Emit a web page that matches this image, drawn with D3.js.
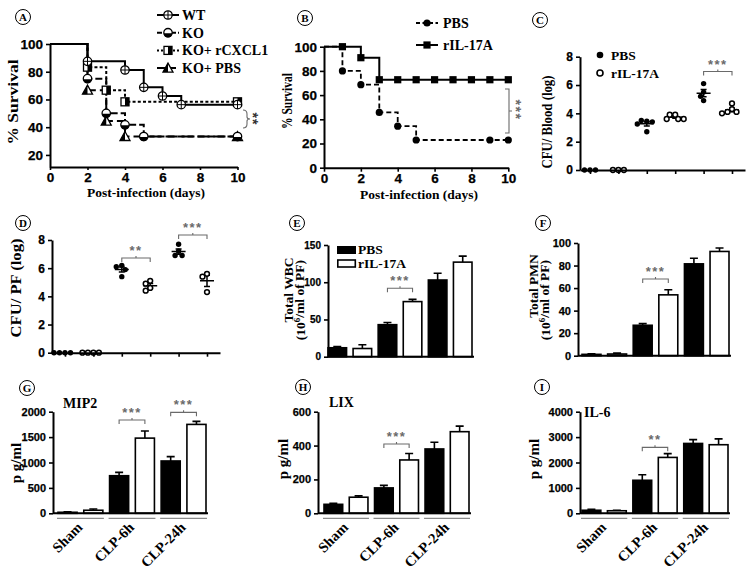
<!DOCTYPE html>
<html><head><meta charset="utf-8">
<script src="https://cdn.jsdelivr.net/npm/d3@7"></script>
<style>body{margin:0;background:#fff}svg{display:block}</style>
</head><body><svg id="c" width="754" height="571"></svg>
<script>
// ================= DATA =================
// Panel A : Kaplan-Meier survival
const aDayTicks = [0,2,4,6,8,10];
const aSurvTicks = [20,40,60,80,100];
const aSeries = ["WT","KO","KO+ rCXCL1","KO+ PBS"];
const aWTdays = [0,2,4,5,6,7,10];
const aWTsurv = [100,87.5,81.25,68.75,62.5,56.25,56.25];
const aKOdays = [0,2,3,4,5,10];
const aKOsurv = [100,75,50,41.7,33.3,33.3];
const aCXdays = [0,2,3,4,10];
const aCXsurv = [100,83.3,66.7,58.3,58.3];
const aPBdays = [0,2,3,4,10];
const aPBsurv = [100,66.7,44.4,33.3,33.3];
// Panel B
const bDayTicks = [0,2,4,6,8,10];
const bSurvTicks = [0,20,40,60,80,100];
const bSeries = ["PBS","rIL-17A"];
const bPBSdays = [0,1,2,3,4,5,10];
const bPBSsurv = [100,80,68.6,45.7,34.3,22.9,22.9];
const bPBSmarks = [1,2,3,4,5,9,10];
const bILdays = [0,2,3,10];
const bILsurv = [100,90.9,72.7,72.7];
const bILmarks = [1,2,3,4,5,6,7,8,9,10];
// Panel C : CFU / blood (log), groups alternate PBS / rIL-17A
const cTicks = [0,2,4,6,8];
const cGroups = [[0,0,0],[0,0,0],[3.45,3.5,3.4,3.25,2.7],[3.9,3.9,3.6,3.6,3.6],[6.1,5.5,5.2,4.9],[4.7,4.3,4.1,4.1,4.0]];
// Panel D : CFU / PF (log)
const dTicks = [0,2,4,6,8];
const dGroups = [[0,0,0,0],[0,0,0,0],[6.2,6.1,5.9,5.4],[5.1,4.9,4.6,4.4],[7.7,7.2,6.9,6.9],[5.6,5.4,4.3]];
// Bar panels: [Sham, CLP-6h, CLP-24h]
const groupsLbl = ["Sham","CLP-6h","CLP-24h"];
const eTicks = [0,50,100,150];
const ePBS = [12,43,103], ePBSsem = [1.5,3,9];
const eIL  = [11,74,127], eILsem  = [5,3,8];
const fTicks = [0,20,40,60,80,100];
const fPBS = [1.2,27,81.5], fPBSsem = [0.5,1.5,5];
const fIL  = [1.5,54,92.5], fILsem  = [0.8,4.5,3];
const gTicks = [0,500,1000,1500,2000];
const gPBS = [20,740,1030], gPBSsem = [8,65,85];
const gIL  = [60,1480,1750], gILsem = [25,140,60];
const hTicks = [0,200,400,600];
const hPBS = [53,150,380], hPBSsem = [6,15,40];
const hIL  = [95,315,482], hILsem  = [8,38,33];
const iTicks = [0,1000,2000,3000,4000];
const iPBS = [120,1300,2750], iPBSsem = [40,220,150];
const iIL  = [100,2200,2700], iILsem  = [20,150,230];

// ================= HELPERS =================
const svg = d3.select("#c");
const SERIF = '"Liberation Serif","Times New Roman",serif';
const SANS = '"Liberation Sans",Arial,sans-serif';
const GRAY = "#6a6a6a";
const fmt = d3.format("d");

function T(x,y,s,o={}){
  const t = svg.append("text").attr("x",x).attr("y",y).text(s)
    .attr("font-family", o.sans?SANS:SERIF).attr("font-weight","bold")
    .attr("font-size", o.fs||13).attr("text-anchor", o.anchor||"start")
    .attr("fill", o.fill||"#000");
  if(o.dy) t.attr("dy", o.dy);
  if(o.rot!=null) t.attr("transform", `rotate(${o.rot},${x},${y})`);
  if(o.len) t.attr("textLength", o.len).attr("lengthAdjust","spacingAndGlyphs");
  return t;
}
function styleAxis(g, fs){
  g.attr("font-family",SANS).attr("font-size",fs).attr("font-weight","bold");
  g.select(".domain").attr("stroke-width",2).attr("stroke","#000");
  g.selectAll(".tick line").attr("stroke-width",1.6).attr("stroke","#000");
  g.selectAll(".tick text").attr("fill","#000").attr("stroke","#000").attr("stroke-width",0.25);
}
function circLabel(x,y,s){
  svg.append("circle").attr("cx",x).attr("cy",y).attr("r",7.5).attr("fill","none").attr("stroke","#000").attr("stroke-width",1);
  T(x,y,s,{fs:11,anchor:"middle",dy:"0.36em"});
}
function stepAt(days,surv,d){ let v=surv[0]; days.forEach((t,i)=>{ if(t<=d) v=surv[i]; }); return v; }
function marker(g,type,cx,cy){
  const s = g.append("g");
  if(type==="WT"){
    s.append("circle").attr("cx",cx).attr("cy",cy).attr("r",4.2).attr("fill","#fff").attr("stroke","#000").attr("stroke-width",1.3);
    s.append("path").attr("d",`M${cx-4.2},${cy}H${cx+4.2}M${cx},${cy-4.2}V${cy+4.2}`).attr("stroke","#000").attr("stroke-width",1);
  } else if(type==="KO"){
    s.append("circle").attr("cx",cx).attr("cy",cy).attr("r",4.2).attr("fill","#fff").attr("stroke","#000").attr("stroke-width",1.3);
    s.append("path").attr("d",`M${cx-4.2},${cy+0.5}A4.2,4.2 0 0,0 ${cx+4.2},${cy+0.5}Z`).attr("fill","#000");
  } else if(type==="CX"){
    s.append("rect").attr("x",cx-4).attr("y",cy-4).attr("width",8).attr("height",8).attr("fill","#fff").attr("stroke","#000").attr("stroke-width",1.3);
    s.append("rect").attr("x",cx).attr("y",cy-4).attr("width",4).attr("height",8).attr("fill","#000");
  } else if(type==="PB"){
    s.append("path").attr("d",`M${cx},${cy-5}L${cx-5},${cy+4}L${cx+5},${cy+4}Z`).attr("fill","#fff").attr("stroke","#000").attr("stroke-width",1.3);
    s.append("path").attr("d",`M${cx},${cy-5}L${cx-5},${cy+4}L${cx},${cy+4}Z`).attr("fill","#000");
  } else if(type==="dot"){
    s.append("circle").attr("cx",cx).attr("cy",cy).attr("r",3.6).attr("fill","#000");
  } else if(type==="sq"){
    s.append("rect").attr("x",cx-3.6).attr("y",cy-3.6).attr("width",7.2).attr("height",7.2).attr("fill","#000");
  }
}
function hBracket(x1,x2,y,label,fs){
  svg.append("path").attr("d",`M${x1},${y+4}V${y}H${x2}V${y+4}M${(x1+x2)/2},${y}v-2`)
    .attr("fill","none").attr("stroke",GRAY).attr("stroke-width",1.1);
  T((x1+x2)/2, y-3, label, {sans:true, fs:fs||14, anchor:"middle", fill:GRAY}).attr("letter-spacing","1.5");
}
function swarm(ys,minD){
  const placed=[];
  return ys.map(py=>{
    for(let k=0;k<400;k++){
      const off=(k%2?-1:1)*Math.ceil(k/2)*0.5;
      if(placed.every(p=>(p.o-off)**2+(p.y-py)**2>=minD*minD)){placed.push({o:off,y:py});return off;}
    }
    return 0;
  });
}

// ================= PANEL A =================
circLabel(23,17,"A");
{
  const x = d3.scaleLinear().domain([0,10]).range([50,237.5]);
  const y = d3.scaleLinear().domain([11.3,100]).range([167,44]);
  const g = svg.append("g");
  const line = d3.line().x(d=>x(d[0])).y(d=>y(d[1])).curve(d3.curveStepAfter);
  const ser = [
    {k:"PB", d:aPBdays, s:aPBsurv, dash:"12,4"},
    {k:"KO", d:aKOdays, s:aKOsurv, dash:"7,3"},
    {k:"CX", d:aCXdays, s:aCXsurv, dash:"3,2.2"},
    {k:"WT", d:aWTdays, s:aWTsurv, dash:null}
  ];
  ser.forEach(o=>{
    g.append("path").attr("d",line(o.d.map((d,i)=>[d,o.s[i]]))).attr("fill","none")
      .attr("stroke","#000").attr("stroke-width",2).attr("stroke-dasharray",o.dash);
  });
  ser.forEach(o=>{ o.d.forEach((d,i)=>{ if(i>0) marker(g,o.k,x(d),y(o.s[i])); }); });
  const ax = svg.append("g").attr("transform","translate(0,167)")
    .call(d3.axisBottom(x).tickValues(aDayTicks).tickSize(3).tickPadding(2).tickSizeOuter(0));
  styleAxis(ax,13.5);
  const ay = svg.append("g").attr("transform","translate(50,0)")
    .call(d3.axisLeft(y).tickValues(aSurvTicks).tickSize(4).tickPadding(3).tickSizeOuter(0));
  styleAxis(ay,13.5);
  T(13,102,"% Survival",{fs:15,anchor:"middle",rot:-90,dy:"0.35em",len:85});
  T(146,197,"Post-infection (days)",{fs:13.5,anchor:"middle"});
  // legend
  const keys=["WT","KO","CX","PB"], dashes=[null,"5,2","2,2","8,3"];
  aSeries.forEach((s,i)=>{
    const ly = 15+i*17.7;
    svg.append("path").attr("d",`M157,${ly}H179`).attr("stroke","#000").attr("stroke-width",2).attr("stroke-dasharray",dashes[i]);
    marker(svg,keys[i],168,ly);
    T(182,ly+5,s,{fs:14});
  });
  // significance brace
  svg.append("path").attr("d","M243,110q4,0 4,4v3q0,2 3,2q-3,0 -3,2v3q0,4 -4,4")
    .attr("fill","none").attr("stroke",GRAY).attr("stroke-width",1.1);
  T(253,119,"**",{sans:true,fs:14,anchor:"middle",rot:90,fill:"#333",dy:"0.35em"}).attr("letter-spacing","1");
}

// ================= PANEL B =================
circLabel(305,18,"B");
{
  const x = d3.scaleLinear().domain([0,10]).range([324,508.3]);
  const y = d3.scaleLinear().domain([0,100]).range([167.7,46.7]);
  const g = svg.append("g");
  const line = d3.line().x(d=>x(d[0])).y(d=>y(d[1])).curve(d3.curveStepAfter);
  g.append("path").attr("d",line(bPBSdays.map((d,i)=>[d,bPBSsurv[i]]))).attr("fill","none")
    .attr("stroke","#000").attr("stroke-width",1.8).attr("stroke-dasharray","5,3");
  g.append("path").attr("d",line(bILdays.map((d,i)=>[d,bILsurv[i]]))).attr("fill","none")
    .attr("stroke","#000").attr("stroke-width",2);
  bPBSmarks.forEach(d=>marker(g,"dot",x(d),y(stepAt(bPBSdays,bPBSsurv,d))));
  bILmarks.forEach(d=>marker(g,"sq",x(d),y(stepAt(bILdays,bILsurv,d))));
  const ax = svg.append("g").attr("transform","translate(0,167.7)")
    .call(d3.axisBottom(x).tickValues(bDayTicks).tickSize(4).tickPadding(2).tickSizeOuter(0));
  styleAxis(ax,13.5);
  const ay = svg.append("g").attr("transform","translate(324,0)")
    .call(d3.axisLeft(y).tickValues(bSurvTicks).tickSize(4).tickPadding(3).tickSizeOuter(0));
  styleAxis(ay,13.5);
  T(287,101,"% Survival",{fs:14,anchor:"middle",rot:-90,dy:"0.35em",len:56});
  T(419,199,"Post-infection (days)",{fs:13.5,anchor:"middle"});
  // legend
  svg.append("path").attr("d","M416,23H438").attr("stroke","#000").attr("stroke-width",2).attr("stroke-dasharray","4,2.5");
  marker(svg,"dot",427,23);
  T(443,28,bSeries[0],{fs:14});
  svg.append("path").attr("d","M416,45H438").attr("stroke","#000").attr("stroke-width",2);
  marker(svg,"sq",427,45);
  T(443,50,bSeries[1],{fs:14});
  // significance bracket
  svg.append("path").attr("d","M505,89H509V133H505M509,111h3").attr("fill","none").attr("stroke",GRAY).attr("stroke-width",1.1);
  T(516,110,"***",{sans:true,fs:14,anchor:"middle",rot:90,fill:GRAY,dy:"0.35em"}).attr("letter-spacing","1.5");
}

// ================= DOT PANELS =================
function dotPanel(o){
  const y = d3.scaleLinear().domain([0,8]).range([o.y0,o.yTop]);
  const x = d3.scaleLinear().domain([-(o.gx0-o.axX)/o.step,(o.axEnd-o.gx0)/o.step]).range([o.axX,o.axEnd]);
  const g = svg.append("g");
  const ax = svg.append("g").attr("transform",`translate(0,${o.y0})`)
    .call(d3.axisBottom(x).tickValues(d3.range(o.groups.length)).tickSize(4).tickFormat("").tickSizeOuter(0));
  styleAxis(ax,11);
  const ay = svg.append("g").attr("transform",`translate(${o.axX},0)`)
    .call(d3.axisLeft(y).tickValues(o.ticks).tickSize(4).tickPadding(3).tickSizeOuter(0));
  styleAxis(ay,12);
  o.groups.forEach((vals,gi)=>{
    const cx = x(gi);
    const open = gi%2===1;
    const pys = vals.map(v=>y(v));
    const offs = swarm(pys,5.2);
    const m = d3.mean(vals), sem = vals.length>1 ? d3.deviation(vals)/Math.sqrt(vals.length) : 0;
    if(m>0){
      g.append("path").attr("d",`M${cx-7},${y(m)}H${cx+7}M${cx},${y(m-sem)}V${y(m+sem)}M${cx-3},${y(m-sem)}H${cx+3}M${cx-3},${y(m+sem)}H${cx+3}`)
        .attr("stroke","#000").attr("stroke-width",1.5).attr("fill","none");
    }
    vals.forEach((v,i)=>{
      g.append("circle").attr("cx",cx+offs[i]).attr("cy",pys[i]).attr("r",open?2.4:2.7)
        .attr("fill",open?"#fff":"#000").attr("stroke","#000").attr("stroke-width",open?1.5:0);
    });
  });
  (o.sig||[]).forEach(s=>hBracket(x(s.a),x(s.b),y(s.v),s.label,13));
  return {x,y};
}
circLabel(540,20,"C");
dotPanel({groups:cGroups,ticks:cTicks,y0:170,yTop:56.7,axX:580,axEnd:745,gx0:590,step:28.4,
  sig:[{a:4,b:5,v:6.95,label:"***"}]});
T(547,122,"CFU/ Blood  (log)",{fs:14,anchor:"middle",rot:-90,dy:"0.35em",len:93});
svg.append("circle").attr("cx",600).attr("cy",55).attr("r",3.3).attr("fill","#000");
T(611,60,"PBS",{fs:13.5});
svg.append("circle").attr("cx",600).attr("cy",73).attr("r",3).attr("fill","#fff").attr("stroke","#000").attr("stroke-width",1.6);
T(611,78,"rIL-17A",{fs:13.5});

circLabel(23,223,"D");
dotPanel({groups:dGroups,ticks:dTicks,y0:352.7,yTop:240,axX:52,axEnd:220,gx0:65,step:28.4,
  sig:[{a:2,b:3,v:6.72,label:"**"},{a:4,b:5,v:8.35,label:"***"}]});
T(16,288,"CFU/ PF (log)",{fs:14,anchor:"middle",rot:-90,dy:"0.35em",len:99});

// ================= BAR PANELS =================
function barPanel(o){
  const y = d3.scaleLinear().domain([0,o.max]).range([o.yBot,o.yTop]);
  const x = d3.scaleBand().domain(d3.range(6)).range([o.x0,o.x1]).paddingInner(0.26).paddingOuter(0);
  const vals=[], sems=[];
  for(let i=0;i<3;i++){ vals.push(o.pbs[i],o.il[i]); sems.push(o.pbsSem[i],o.ilSem[i]); }
  const bw = x.bandwidth();
  const g = svg.append("g");
  g.selectAll("path.err").data(vals).enter().append("path")
    .attr("d",(v,i)=>{const cx=x(i)+bw/2, t=y(v+sems[i]); return `M${cx},${y(v)}V${t}M${cx-4},${t}H${cx+4}`;})
    .attr("stroke","#000").attr("stroke-width",1.6).attr("fill","none");
  g.selectAll("rect").data(vals).enter().append("rect")
    .attr("x",(v,i)=>x(i)).attr("width",bw).attr("y",v=>y(v)).attr("height",v=>y(0)-y(v))
    .attr("fill",(v,i)=>i%2?"#fff":"#000").attr("stroke","#000").attr("stroke-width",1.6);
  svg.append("path").attr("d",`M${o.axX},${y(0)}H${o.x1+2}`).attr("stroke","#000").attr("stroke-width",2);
  const ay = svg.append("g").attr("transform",`translate(${o.axX},0)`)
    .call(d3.axisLeft(y).tickValues(o.ticks).tickFormat(fmt).tickSize(4).tickPadding(3).tickSizeOuter(0));
  styleAxis(ay,o.tfs||11);
  (o.sig||[]).forEach(s=>hBracket(x(s.a)+bw/2,x(s.b)+bw/2,y(s.v),s.label,13));
  if(o.groupLabels){
    for(let gi=0;gi<3;gi++){
      const l=x(2*gi)-1, r=x(2*gi+1)+bw+1;
      svg.append("path").attr("d",`M${l},${y(0)+5}H${r}`).attr("stroke","#8a8a8a").attr("stroke-width",1.2);
      const cx=(l+r)/2+3, cy=y(0)+15;
      T(cx,cy,groupsLbl[gi],{fs:14.5,anchor:"end",rot:-45});
    }
  }
  return {x,y};
}
// E
circLabel(297,223,"E");
barPanel({x0:328,x1:472,axX:328,yTop:245,yBot:356.7,max:150,ticks:eTicks,pbs:ePBS,pbsSem:ePBSsem,il:eIL,ilSem:eILsem,
  sig:[{a:2,b:3,v:92,label:"***"}],tfs:10});
svg.append("rect").attr("x",337).attr("y",246).attr("width",19).attr("height",8).attr("fill","#000");
T(358,254,"PBS",{fs:13.5});
svg.append("rect").attr("x",337.8).attr("y",260).attr("width",17.5).attr("height",7).attr("fill","#fff").attr("stroke","#000").attr("stroke-width",1.6);
T(358,268,"rIL-17A",{fs:13.5});
T(288,290,"Total WBC",{fs:13.5,anchor:"middle",rot:-90,dy:"0.35em"});
{
  const t=T(300,300,"(10",{fs:13.5,anchor:"middle",rot:-90,dy:"0.35em"});
  t.append("tspan").attr("font-size",9).attr("dy","-0.5em").text("6");
  t.append("tspan").attr("dy","0.3em").text("/ml of PF)");
}
// F
circLabel(543,223,"F");
barPanel({x0:582,x1:729,axX:578,yTop:243,yBot:355.7,max:100,ticks:fTicks,pbs:fPBS,pbsSem:fPBSsem,il:fIL,ilSem:fILsem,
  sig:[{a:2,b:3,v:68,label:"***"}]});
T(533,286,"Total PMN",{fs:13.5,anchor:"middle",rot:-90,dy:"0.35em"});
{
  const t=T(545,300,"(10",{fs:13.5,anchor:"middle",rot:-90,dy:"0.35em"});
  t.append("tspan").attr("font-size",9).attr("dy","-0.5em").text("6");
  t.append("tspan").attr("dy","0.3em").text("/ml of PF)");
}
// G
circLabel(27,388,"G");
barPanel({x0:58,x1:206,axX:53,yTop:411.7,yBot:513.3,max:2000,ticks:gTicks,pbs:gPBS,pbsSem:gPBSsem,il:gIL,ilSem:gILsem,
  sig:[{a:2,b:3,v:1836,label:"***"},{a:4,b:5,v:1987,label:"***"}],groupLabels:true});
T(63,408,"MIP2",{fs:14});
T(16,463,"p g/ml",{fs:15,anchor:"middle",rot:-90,dy:"0.35em"});
// H
circLabel(303,387,"H");
barPanel({x0:324,x1:469,axX:318,yTop:411.7,yBot:513.3,max:600,ticks:hTicks,pbs:hPBS,pbsSem:hPBSsem,il:hIL,ilSem:hILsem,
  sig:[{a:2,b:3,v:409,label:"***"}],groupLabels:true});
T(329,407,"LIX",{fs:14});
T(283,459,"p g/ml",{fs:15,anchor:"middle",rot:-90,dy:"0.35em"});
// I
circLabel(542,387,"I");
barPanel({x0:582,x1:728,axX:580,yTop:411.7,yBot:513.3,max:4000,ticks:iTicks,pbs:iPBS,pbsSem:iPBSsem,il:iIL,ilSem:iILsem,
  sig:[{a:2,b:3,v:2597,label:"**"}],groupLabels:true});
T(584,417,"IL-6",{fs:14});
T(534,459,"p g/ml",{fs:15,anchor:"middle",rot:-90,dy:"0.35em"});
</script></body></html>
